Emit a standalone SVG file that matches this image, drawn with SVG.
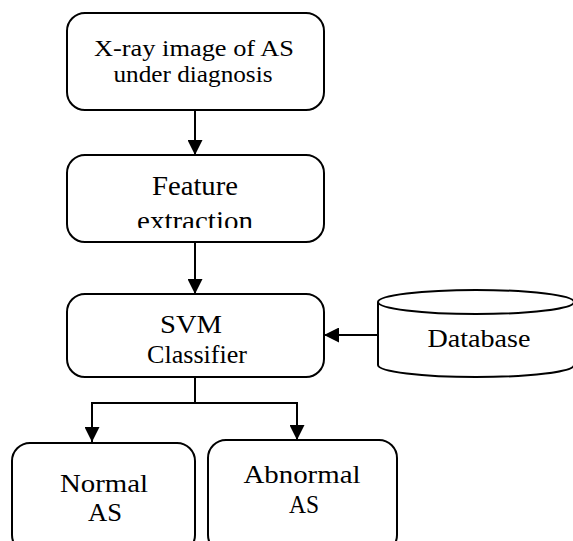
<svg xmlns="http://www.w3.org/2000/svg" width="573" height="541" viewBox="0 0 573 541">
  <style>
    .box { fill: #fff; stroke: #000; stroke-width: 2; }
    .lbl { fill: #000; text-anchor: middle; font-family: "Liberation Serif", "Times New Roman", serif; }
    .wire { fill: none; stroke: #000; stroke-width: 2; }
  </style>
  <defs>
    <marker id="head" viewBox="0 0 10 10" refX="10" refY="5" markerWidth="7.5" markerHeight="7.5" markerUnits="strokeWidth" orient="auto">
      <path d="M0,0 L10,5 L0,10 Z" fill="#000"/>
    </marker>
    <!-- the second line of the feature box is cut off by its text frame -->
    <clipPath id="clipFeat">
      <rect x="67" y="155" width="257" height="73"/>
    </clipPath>
  </defs>
  <rect width="573" height="541" fill="#fff"/>

  <g id="connectors">
    <line class="wire" x1="195" y1="110" x2="195" y2="155" marker-end="url(#head)"/>
    <line class="wire" x1="195" y1="242" x2="195" y2="294" marker-end="url(#head)"/>
    <line class="wire" x1="378" y1="335" x2="324" y2="335" marker-end="url(#head)"/>
    <polyline class="wire" points="195,377 195,403"/>
    <polyline class="wire" points="92,403 297,403"/>
    <line class="wire" x1="92" y1="402" x2="92" y2="442" marker-end="url(#head)"/>
    <line class="wire" x1="297" y1="402" x2="297" y2="440" marker-end="url(#head)"/>
  </g>

  <g id="xray">
    <rect class="box" x="67" y="13" width="257" height="97" rx="18"/>
    <text class="lbl" x="194" y="56" font-size="24" textLength="200" lengthAdjust="spacingAndGlyphs">X-ray image of AS</text>
    <text class="lbl" x="193" y="82" font-size="24" textLength="159" lengthAdjust="spacingAndGlyphs">under diagnosis</text>
  </g>

  <g id="feature">
    <rect class="box" x="67" y="155" width="257" height="87" rx="18"/>
    <text class="lbl" x="195" y="195" font-size="27" textLength="86" lengthAdjust="spacingAndGlyphs">Feature</text>
    <text class="lbl" x="195" y="230" font-size="27" textLength="116" lengthAdjust="spacingAndGlyphs" clip-path="url(#clipFeat)">extraction</text>
  </g>

  <g id="svm">
    <rect class="box" x="67" y="294" width="257" height="83" rx="18"/>
    <text class="lbl" x="191" y="333" font-size="25" textLength="62" lengthAdjust="spacingAndGlyphs">SVM</text>
    <text class="lbl" x="197" y="363" font-size="25" textLength="100" lengthAdjust="spacingAndGlyphs">Classifier</text>
  </g>

  <g id="database">
    <path class="box" d="M378,302 L378,365 A98,12 0 0 0 574,365 L574,302"/>
    <ellipse class="box" cx="476" cy="302" rx="98" ry="12"/>
    <text class="lbl" x="479" y="347" font-size="26" textLength="103" lengthAdjust="spacingAndGlyphs">Database</text>
  </g>

  <g id="normal">
    <rect class="box" x="12" y="443" width="183" height="110" rx="18"/>
    <text class="lbl" x="104" y="492" font-size="26" textLength="88" lengthAdjust="spacingAndGlyphs">Normal</text>
    <text class="lbl" x="105" y="521" font-size="26" textLength="34" lengthAdjust="spacingAndGlyphs">AS</text>
  </g>

  <g id="abnormal">
    <rect class="box" x="208" y="440" width="189" height="113" rx="18"/>
    <text class="lbl" x="302" y="483" font-size="26" textLength="117" lengthAdjust="spacingAndGlyphs">Abnormal</text>
    <text class="lbl" x="304" y="513" font-size="26" textLength="30" lengthAdjust="spacingAndGlyphs">AS</text>
  </g>
</svg>
